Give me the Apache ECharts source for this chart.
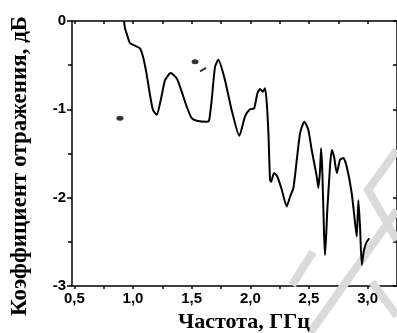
<!DOCTYPE html>
<html>
<head>
<meta charset="utf-8">
<script src="https://cdn.jsdelivr.net/npm/echarts@6/dist/echarts.min.js"></script>
<style>html,body{margin:0;padding:0;background:#fff;}#c{width:397px;height:333px;}</style>
</head>
<body>
<div id="c"></div>
<script>
// Frequency, GHz
const freq = [0.923,0.932,0.957,0.974,1.017,1.060,1.088,1.117,1.145,1.171,1.202,1.245,1.273,1.321,1.373,1.415,1.458,1.500,1.543,1.628,1.648,1.671,1.699,1.727,1.784,1.841,1.906,1.955,1.997,2.032,2.060,2.083,2.106,2.125,2.140,2.154,2.168,2.177,2.202,2.230,2.268,2.310,2.338,2.367,2.396,2.424,2.460,2.494,2.523,2.566,2.580,2.594,2.603,2.614,2.628,2.637,2.656,2.679,2.694,2.714,2.737,2.765,2.793,2.822,2.864,2.893,2.907,2.921,2.935,2.950,2.969,2.992,3.014];
// Reflection coefficient, dB
const refl = [0,-0.083,-0.19,-0.25,-0.28,-0.31,-0.42,-0.61,-0.84,-1.01,-1.06,-0.84,-0.67,-0.59,-0.65,-0.80,-0.97,-1.10,-1.13,-1.14,-1.13,-0.89,-0.52,-0.44,-0.67,-1.01,-1.30,-1.08,-1.00,-0.99,-0.82,-0.77,-0.80,-0.76,-0.93,-1.27,-1.80,-1.82,-1.72,-1.76,-1.91,-2.10,-1.99,-1.89,-1.57,-1.27,-1.14,-1.23,-1.46,-1.76,-1.89,-1.69,-1.44,-1.72,-2.40,-2.65,-2.14,-1.65,-1.46,-1.54,-1.72,-1.57,-1.55,-1.65,-1.95,-2.29,-2.44,-2.03,-2.33,-2.76,-2.59,-2.50,-2.46];
// stray marks on the scan
const specksX = [0.889, 1.529];
const specksY = [-1.10, -0.46];
const dashX = [1.597];
const dashY = [-0.55];
const xTickLabels = [0.5, 1.0, 1.5, 2.0, 2.5, 3.0];
const xMinorTicks = [0.5,0.75,1.0,1.25,1.5,1.75,2.0,2.25,2.5,2.75,3.0];
const yTickLabels = [0, -1, -2, -3];

const chart = echarts.init(document.getElementById('c'));
const lineData = freq.map((f, i) => [f, refl[i]]);
const speckData = specksX.map((f, i) => [f, specksY[i]]);
const dashData = dashX.map((f, i) => [f, dashY[i]]);
const wm = {type:'polyline', z: 1, silent: true, style: {stroke:'#dadada', lineWidth: 8, fill: null}};
chart.setOption({
  animation: false,
  grid: {left: 72, right: -1, top: 21, bottom: 47},
  xAxis: [{
    type: 'value', min: 0.48, max: 3.25, position: 'bottom',
    axisLine: {show: true, onZero: false, lineStyle: {color: '#000', width: 1.5}},
    axisTick: {show: true, inside: false, length: 3, customValues: xMinorTicks, lineStyle: {color: '#000', width: 1.5}},
    axisLabel: {show: true, customValues: xTickLabels, margin: 5, color: '#000',
      fontFamily: 'Liberation Sans', fontWeight: 'bold', fontSize: 15,
      formatter: v => v.toFixed(1).replace('.', ',')},
    splitLine: {show: false}
  }, {
    type: 'value', min: 0.48, max: 3.25, position: 'top',
    axisLine: {show: true, onZero: false, lineStyle: {color: '#000', width: 1.5}},
    axisTick: {show: true, inside: true, length: 3, customValues: xMinorTicks, lineStyle: {color: '#000', width: 1.5}},
    axisLabel: {show: false}, splitLine: {show: false}
  }],
  yAxis: [{
    type: 'value', min: -3, max: 0, interval: 1, position: 'left',
    axisLine: {show: true, onZero: false, lineStyle: {color: '#000', width: 1.5}},
    axisTick: {show: true, inside: false, length: 5, lineStyle: {color: '#000', width: 1.5}},
    minorTick: {show: true, splitNumber: 2, length: 4, lineStyle: {color: '#000', width: 1.5}},
    axisLabel: {show: true, margin: 6, color: '#000', fontFamily: 'Liberation Sans', fontWeight: 'bold', fontSize: 15,
      customValues: yTickLabels, formatter: v => String(v).replace('\u2212','-')},
    splitLine: {show: false}
  }, {
    type: 'value', min: -3, max: 0, interval: 1, position: 'right',
    axisLine: {show: true, onZero: false, lineStyle: {color: '#000', width: 1.5}},
    axisTick: {show: true, inside: true, length: 4, lineStyle: {color: '#000', width: 1.5}},
    minorTick: {show: true, splitNumber: 2, length: 4, lineStyle: {color: '#000', width: 1.5}},
    axisLabel: {show: false}, splitLine: {show: false}
  }],
  series: [{
    type: 'line', data: lineData, xAxisIndex: 0, yAxisIndex: 0,
    showSymbol: false, smooth: 0.2, z: 3,
    lineStyle: {color: '#000', width: 2}
  }, {
    type: 'scatter', data: speckData, symbol: 'circle', symbolSize: [7, 5], z: 3,
    itemStyle: {color: '#000'}
  }, {
    type: 'scatter', data: dashData, symbol: 'rect', symbolSize: [7, 2], symbolRotate: 30, z: 3,
    itemStyle: {color: '#000'}
  }],
  graphic: [
    Object.assign({}, wm, {shape: {points: [[292,285],[313,252]]}}),
    Object.assign({}, wm, {shape: {points: [[310,333],[397,210]]}}),
    Object.assign({}, wm, {shape: {points: [[397,150],[368,190],[397,240]]}}),
    Object.assign({}, wm, {shape: {points: [[372,282],[397,316]]}}),
    {type: 'text', x: 244, y: 322, z: 10, style: {text: 'Частота, ГГц', fill: '#000',
      font: 'bold 22px "Liberation Serif"', textAlign: 'center', textVerticalAlign: 'middle'}},
    {type: 'text', x: 20, y: 166, rotation: Math.PI / 2, z: 10, style: {text: 'Коэффициент отражения, дБ', fill: '#000',
      font: 'bold 23px "Liberation Serif"', textAlign: 'center', textVerticalAlign: 'middle'}}
  ]
});
</script>
</body>
</html>
